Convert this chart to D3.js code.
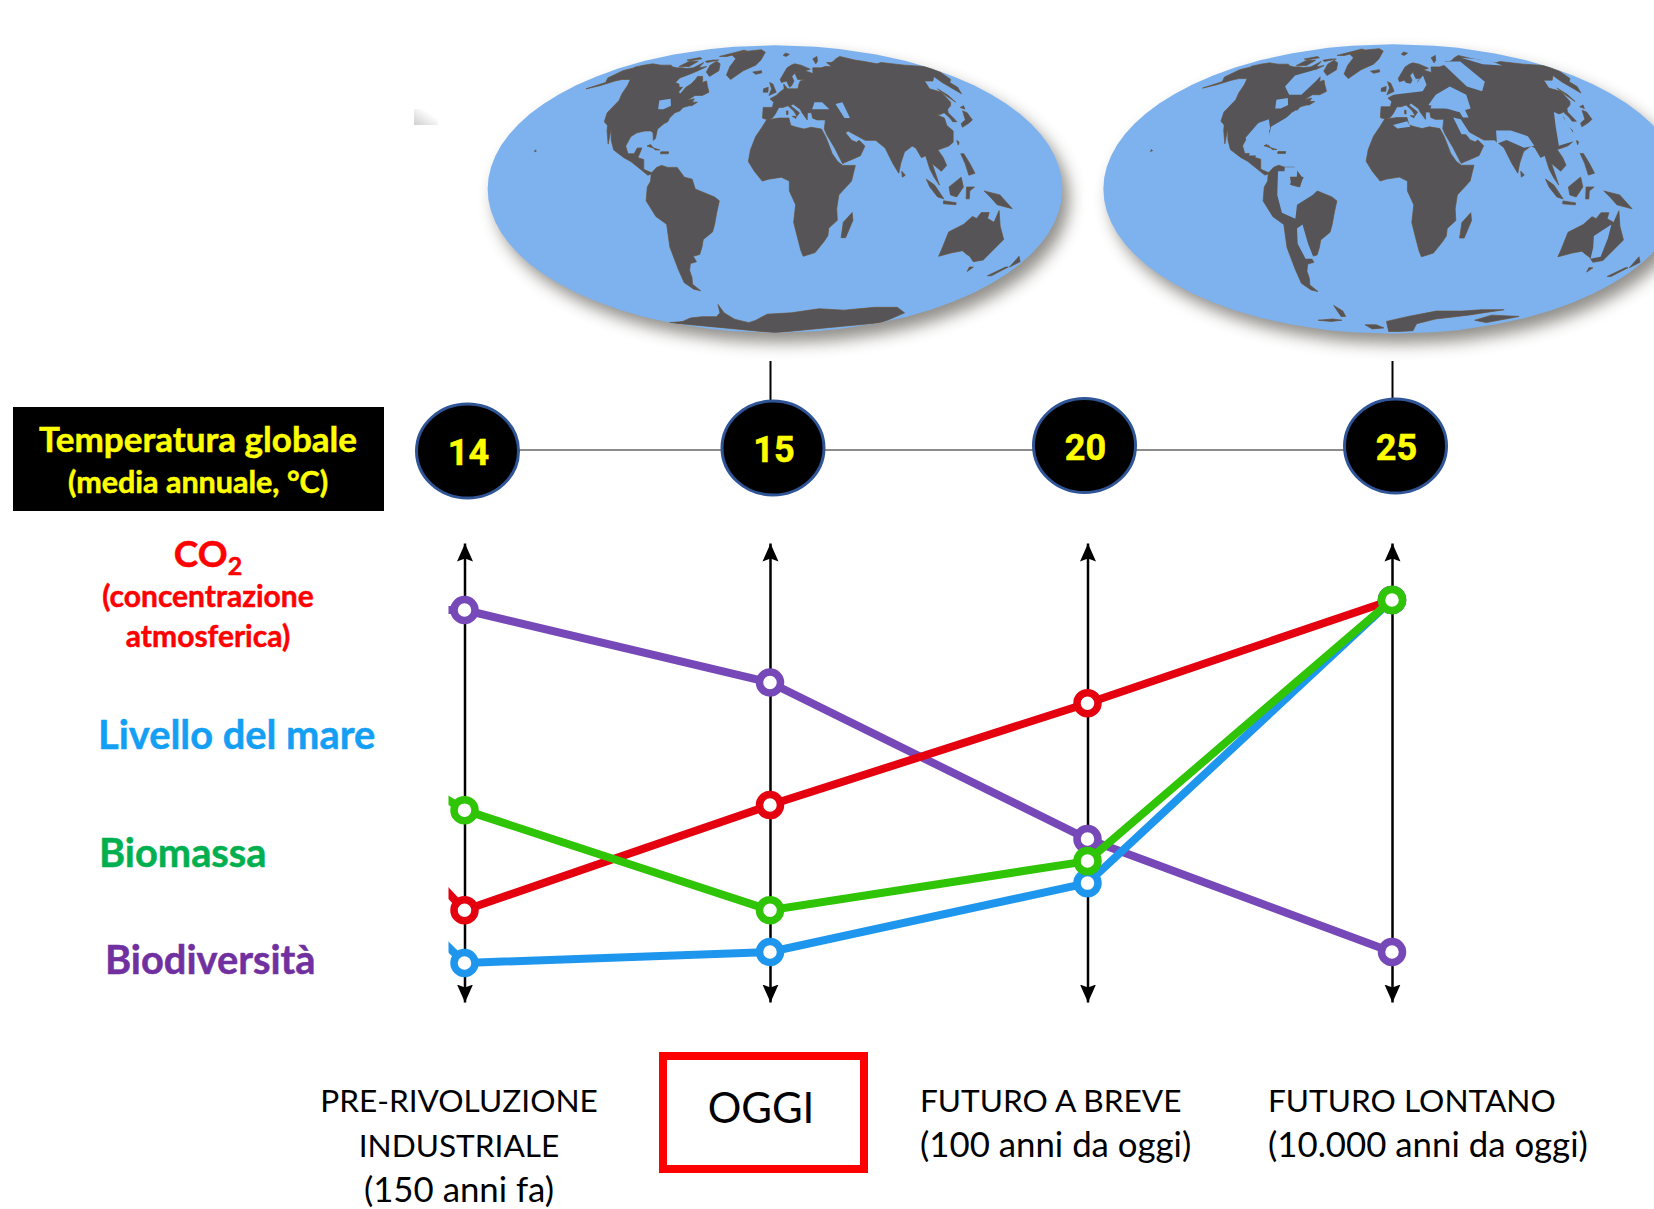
<!DOCTYPE html>
<html>
<head>
<meta charset="utf-8">
<title>Temperatura globale</title>
<script src="https://cdnjs.cloudflare.com/ajax/libs/d3/7.8.5/d3.min.js"></script>
<style>
    html, body { margin: 0; padding: 0; background: #fff; }
    svg { display: block; }
    text { font-family: Lato, "Open Sans", sans-serif; }
    .heavy { font-weight: 700; stroke-width: 0.5px; paint-order: stroke; }
</style>
</head>
<body>
<div id="chart"></div>
<script>
// periods on the x direction
var periods = ["pre", "oggi", "breve", "lontano"];
var temperatures = [14, 15, 20, 25];

// relative level of each indicator, 0 = bottom of the arrow, 100 = top
var biodiversita = [85.4, 69.6, 35.5, 10.9];
var co2 = [20, 42.9, 65.1, 87.6];
var mare = [8.5, 10.9, 25.9, 87.6];
var biomassa = [41.8, 20, 30.7, 87.6];

// the cut-off bit of line coming in from the left of the first arrow
var leadBiodiversita = 85.4;
var leadCo2 = 25.6;
var leadMare = 13.7;
var leadBiomassa = 45;

var rowLabels = ["Livello del mare", "Biomassa", "Biodiversità"];
var co2Lines = ["(concentrazione", "atmosferica)"];
var tempLines = ["Temperatura globale", "(media annuale, °C)"];
var periodPre = ["PRE-RIVOLUZIONE", "INDUSTRIALE", "(150 anni fa)"];
var periodBreve = ["FUTURO A BREVE", "(100 anni da oggi)"];
var periodLontano = ["FUTURO LONTANO", "(10.000 anni da oggi)"];

// coastlines, lon/lat
var northAmerica = [[-168,66],[-164,68],[-166,68.5],[-162,70],[-156,71],[-141,70],[-128,70],[-124,69],[-115,68],[-108,68],[-102,67.5],[-95,68],[-94,72],[-90,69],[-88,68],[-82,69],[-85,66],[-88,64],[-94,61],[-93,58],[-88,57],[-85,55],[-82,55],[-82,52],[-79,51],[-79,55],[-77,57],[-77,60],[-78,62],[-73,62],[-70,60],[-68,58],[-65,59],[-61,56],[-56,52],[-60,50],[-66,50],[-70,47],[-65,48],[-65,46],[-61,46],[-64,44],[-66,44],[-70,43],[-71,41],[-74,40],[-76,37],[-76,35],[-78,34],[-81,31],[-80,26],[-81,25],[-83,29],[-85,30],[-89,30],[-94,29],[-97,27],[-98,22],[-95,18],[-91,18],[-90,21],[-87,21],[-88,16],[-84,15],[-83,10],[-80,9],[-77,8],[-80,7],[-85,10],[-92,14],[-97,16],[-105,20],[-109,25],[-113,31],[-110,23],[-115,30],[-117,33],[-121,35],[-124,40],[-124,47],[-128,51],[-133,56],[-140,60],[-148,60],[-152,59],[-158,56],[-165,54],[-158,58],[-165,61]];
var greenland = [[-73,78],[-60,82],[-35,83.5],[-20,81],[-20,74],[-24,70],[-35,66],[-43,60],[-50,63],[-54,69],[-58,75]];
var arctic = [
    [[-80,73],[-70,71],[-62,66],[-66,62],[-74,65],[-80,70]],
    [[-117,73],[-105,73],[-103,69],[-115,69]],
    [[-90,77],[-75,83],[-62,82],[-78,77]],
    [[-125,74],[-116,76],[-108,75],[-118,73.5]],
    [[52,71],[56,75],[68,77],[58,73]],
    [[14,78],[20,80],[26,79],[18,77]],
    [[-95,73],[-88,74],[-80,74],[-90,72]]
];
var southAmerica = [[-78,8],[-75,11],[-72,12],[-68,11],[-62,11],[-57,6],[-52,5],[-50,0],[-44,-2],[-38,-4],[-35,-6],[-37,-12],[-39,-18],[-41,-22],[-48,-26],[-50,-30],[-53,-34],[-58,-35],[-57,-38],[-62,-39],[-65,-43],[-66,-47],[-69,-51],[-66,-55],[-71,-54],[-75,-50],[-73,-42],[-72,-30],[-70,-18],[-76,-14],[-81,-6],[-80,1],[-78,4]];
var africa = [[-6,36],[3,37],[10,37],[11,33],[15,32],[20,31],[25,32],[32,31],[34,27],[35,24],[37,18],[40,14],[43,12],[51,12],[48,4],[40,-3],[39,-10],[40,-16],[35,-20],[35,-24],[33,-27],[28,-33],[20,-35],[18,-32],[15,-25],[12,-17],[13,-8],[9,-1],[9,4],[4,6],[-4,5],[-8,4],[-13,9],[-17,14],[-16,20],[-13,27],[-9,32]];
var madagascar = [[49,-12],[50,-16],[47,-25],[44,-25],[44,-17]];
var eurasia = [[-9,43],[-2,43],[-1,46],[-4,48],[1,50],[4,52],[6,53],[8,54],[8,57],[11,54],[14,54],[20,54],[22,57],[24,59],[30,60],[22,60],[21,64],[24,66],[17,62],[18,59],[15,56],[13,55],[11,59],[6,58],[5,60],[7,62],[14,68],[20,70],[25,71],[32,70],[40,67],[33,66],[40,64],[44,68],[54,68],[60,69],[68,69],[68,72],[74,72],[80,73],[90,75],[105,77],[113,74],[120,73],[130,71],[140,72],[160,70],[180,69],[178,65],[170,60],[163,58],[162,55],[156,51],[156,58],[160,62],[150,59],[142,59],[135,54],[141,52],[138,46],[135,44],[130,42],[128,40],[129,35],[126,35],[126,37],[125,40],[121,39],[118,39],[122,37],[120,33],[122,30],[118,24],[114,22],[110,21],[106,20],[108,16],[109,12],[105,9],[100,13],[103,2],[100,6],[98,10],[97,17],[94,16],[92,21],[90,22],[86,20],[84,19],[80,13],[78,8],[75,13],[73,18],[72,21],[67,25],[60,25],[56,27],[50,30],[48,29],[51,25],[54,24],[56,25],[59,22],[55,17],[52,16],[43,13],[39,21],[35,28],[34,31],[36,36],[30,36],[27,37],[27,40],[24,40],[23,36],[20,40],[19,42],[14,45],[12,44],[18,40],[16,38],[14,41],[10,44],[6,43],[3,43],[0,39],[-2,37],[-5,36],[-9,37]];
var islands = [
    [[-24,65],[-15,66],[-14,64.5],[-20,63.5]],
    [[-5,58],[-2,57],[1,52],[-5,50],[-3,54]],
    [[-10,54],[-6,55],[-6,52],[-10,52]],
    [[-84,22],[-75,20],[-78,20],[-82,22.8]],
    [[-74,19],[-69,19],[-69,18],[-74,18]],
    [[130,32],[136,34],[141,36],[142,40],[140,41],[136,36],[131,34]],
    [[141,43],[145,44],[143,42]],
    [[142,54],[143,50],[142,46],[141,50]],
    [[120,18],[122,18],[124,13],[126,8],[122,7],[121,13]],
    [[95,5],[100,2],[106,-5],[102,-4],[97,1]],
    [[106,-6],[114,-7],[114,-8],[106,-7.5]],
    [[109,1],[117,6],[118,1],[114,-4],[110,-3]],
    [[120,1],[125,1],[122,-1],[122,-5],[120,-5]],
    [[131,-1],[141,-3],[150,-10],[140,-8],[135,-4]],
    [[167,-46],[172,-41],[174,-41],[170,-46]],
    [[173,-35],[178,-38],[175,-41]],
    [[80,9],[82,7],[80,6]],
    [[145,-41],[148,-41],[147,-43.5]],
    [[121,25],[122,24],[120.5,22.5]],
    [[8.5,41],[9.7,41],[9.5,39],[8.5,39]],
    [[12.5,38],[15.5,38],[15,36.8]],
    [[-156,20],[-155,19.5],[-156,19]]
];
var australia = [[114,-22],[122,-18],[126,-14],[129,-15],[131,-12],[136,-12],[136,-15],[141,-17],[142,-11],[146,-19],[153,-26],[150,-37],[144,-38],[138,-35],[135,-34],[130,-32],[124,-33],[116,-35],[115,-31]];
var antarctica = [[-180,-78],[-150,-77],[-120,-74],[-100,-73],[-80,-73],[-68,-70],[-60,-64],[-63,-70],[-60,-75],[-45,-78],[-30,-76],[-10,-71],[20,-70],[50,-67],[80,-68],[110,-66],[135,-66],[160,-70],[170,-75],[180,-78],[180,-90],[-180,-90]];
var inlandSeas = [
    [[28,42],[31,46],[37,46],[41,42],[35,42]],
    [[47,45],[53,46],[54,37],[50,37]],
    [[-92,47],[-84,48],[-80,44],[-84,42],[-88,42]]
];

// land that is under water on the future map
var flooded = [
    [[-84,32],[-76,37],[-72,41],[-68,40],[-72,28],[-82,22]],
    [[-98,26],[-94,34],[-88,36],[-84,31],[-84,25],[-95,24]],
    [[-98,62],[-95,55],[-85,50],[-75,50],[-72,58],[-72,63],[-85,66]],
    [[-92,17],[-92,23],[-85,23],[-86,17]],
    [[-72,9],[-72,-3],[-70,-12],[-62,-15],[-60,-8],[-50,-3],[-46,0],[-50,6],[-55,7],[-58,2],[-64,2],[-62,9]],
    [[-62,-20],[-58,-18],[-57,-28],[-56,-36],[-62,-36],[-64,-28]],
    [[0,50],[25,52],[30,56],[30,62],[20,56],[8,58],[2,53]],
    [[27,44],[35,50],[50,55],[60,50],[58,42],[48,40],[40,42]],
    [[62,72],[65,55],[75,52],[85,58],[88,72]],
    [[43,37],[48,36],[52,28],[46,28]],
    [[68,23],[70,30],[80,30],[90,27],[92,22],[85,21],[75,25]],
    [[108,22],[112,32],[118,40],[122,38],[122,25]],
    [[100,75],[130,73],[130,69],[110,70]],
    [[0,33],[10,35],[12,32],[3,31]],
    [[132,-24],[140,-18],[142,-25],[146,-35],[140,-36],[136,-30]],
    [[-68,6],[-60,6],[-60,11],[-68,11]]
];
var guiana = [[-64,6],[-60,6],[-57,4],[-58,1],[-63,2]];
// what is left of Antarctica once the ice is gone
var antarcticFragments = [
    [[-62,-64],[-58,-68],[-62,-72],[-68,-72]],
    [[-110,-75],[-85,-74],[-75,-75],[-95,-76]],
    [[20,-72],[50,-68],[80,-68],[100,-67],[125,-67],[95,-71],[60,-74],[40,-78],[60,-85],[20,-86],[-15,-86],[-10,-76]],
    [[-50,-79],[-30,-79],[-20,-82],[-50,-83]],
    [[125,-71],[165,-72],[150,-77],[120,-75]]
];

var width = 1654;
var height = 1209;

var svg = d3.select("#chart").append("svg")
    .attr("width", width)
    .attr("height", height);

var defs = svg.append("defs");

defs.append("filter").attr("id", "soft")
    .attr("x", "-10%").attr("y", "-10%")
    .attr("width", "120%").attr("height", "125%")
    .append("feGaussianBlur").attr("stdDeviation", 8);

defs.append("marker").attr("id", "arrow")
    .attr("viewBox", "0 -9 18 18")
    .attr("refX", 18).attr("refY", 0)
    .attr("markerUnits", "userSpaceOnUse")
    .attr("markerWidth", 18).attr("markerHeight", 18)
    .attr("orient", "auto-start-reverse")
    .append("path")
    .attr("d", "M18,0L0,-8L3,0L0,8Z")
    .attr("fill", "#000");

var scrap = defs.append("linearGradient").attr("id", "scrap")
    .attr("x1", 0).attr("y1", 1).attr("x2", 1).attr("y2", 0);
scrap.append("stop").attr("offset", "0%").attr("stop-color", "#cfcfcf");
scrap.append("stop").attr("offset", "70%").attr("stop-color", "#fff");

// Mollweide, not in d3-geo core
function mollweideRaw(lambda, phi) {
    var t = phi;
    for (var i = 0; i < 30; i++) {
        var d = (2 * t + Math.sin(2 * t) - Math.PI * Math.sin(phi)) / (2 + 2 * Math.cos(2 * t) + 1e-9);
        t -= d;
        if (Math.abs(d) < 1e-7) break;
    }
    return [2 * Math.SQRT2 / Math.PI * lambda * Math.cos(t), Math.SQRT2 * Math.sin(t)];
}

function drawGlobe(id, cx, cy, k, landShapes, waterShapes, topShapes) {
    var projection = d3.geoProjection(mollweideRaw)
        .scale(k)
        .translate([cx, cy])
        .precision(0.5);
    var sphere = d3.geoPath(projection)({ type: "Sphere" });
    var ring = d3.line()
        .x(d => projection(d)[0])
        .y(d => projection(d)[1])
        .curve(d3.curveLinearClosed);

    defs.append("clipPath").attr("id", id).append("path").attr("d", sphere);

    svg.append("path")
        .attr("d", sphere)
        .attr("transform", "translate(7,10)")
        .attr("fill", "#57524c")
        .attr("opacity", 0.65)
        .attr("filter", "url(#soft)");

    svg.append("path").attr("d", sphere).attr("fill", "#7db2ee");

    var g = svg.append("g").attr("clip-path", "url(#" + id + ")");

    g.selectAll(".land").data(landShapes).enter().append("path")
        .attr("class", "land")
        .attr("d", ring)
        .attr("fill", "#565456")
        .attr("stroke", "#6a5138")
        .attr("stroke-width", 0.7);

    g.selectAll(".water").data(waterShapes).enter().append("path")
        .attr("class", "water")
        .attr("d", ring)
        .attr("fill", "#7db2ee");

    g.selectAll(".top").data(topShapes).enter().append("path")
        .attr("class", "top")
        .attr("d", ring)
        .attr("fill", "#565456")
        .attr("stroke", "#6a5138")
        .attr("stroke-width", 0.7);
}

var baseLand = [northAmerica, greenland, southAmerica, africa, madagascar, eurasia, australia].concat(arctic, islands);

drawGlobe("globe1", 775, 189, 101.6, baseLand.concat([antarctica]), inlandSeas, []);
drawGlobe("globe2", 1393, 189, 102.4, baseLand, inlandSeas.concat(flooded), [guiana].concat(antarcticFragments));

// stray bit of the pasted image, left of the first globe
svg.append("rect")
    .attr("x", 414).attr("y", 109).attr("width", 24).attr("height", 16)
    .attr("fill", "url(#scrap)");

// temperature row
var tempX = d3.scaleOrdinal().domain(temperatures).range([467.5, 773, 1084.5, 1395.5]);
var tempY = d3.scaleOrdinal().domain(temperatures).range([451, 448, 445.5, 446]);

svg.append("line")
    .attr("x1", tempX(14)).attr("x2", tempX(25))
    .attr("y1", 450).attr("y2", 450)
    .attr("stroke", "#8c8c8c")
    .attr("stroke-width", 2);

[770.5, 1392.5].forEach(function (x) {
    svg.append("line")
        .attr("x1", x).attr("x2", x)
        .attr("y1", 361).attr("y2", 402)
        .attr("stroke", "#000")
        .attr("stroke-width", 2);
});

svg.selectAll(".temp").data(temperatures).enter().append("ellipse")
    .attr("class", "temp")
    .attr("cx", d => tempX(d))
    .attr("cy", d => tempY(d))
    .attr("rx", 51)
    .attr("ry", 47)
    .attr("fill", "#000")
    .attr("stroke", "#2f5597")
    .attr("stroke-width", 3);

svg.selectAll(".tempval").data(temperatures).enter().append("text")
    .attr("class", "tempval heavy")
    .attr("x", d => tempX(d) + 1)
    .attr("y", d => tempY(d) + 14)
    .attr("text-anchor", "middle")
    .attr("fill", "#ffff00")
    .attr("stroke", "#ffff00")
    .style("font-family", "Roboto, sans-serif")
    .style("font-size", "36px")
    .text(d => d);

// black title box
svg.append("rect")
    .attr("x", 13).attr("y", 407)
    .attr("width", 371).attr("height", 104)
    .attr("fill", "#000");

svg.selectAll(".templine").data(tempLines).enter().append("text")
    .attr("class", "templine heavy")
    .attr("x", 198)
    .attr("y", (d, i) => i == 0 ? 452 : 493)
    .attr("text-anchor", "middle")
    .attr("fill", "#ffff00")
    .attr("stroke", "#ffff00")
    .style("font-size", (d, i) => i == 0 ? "35px" : "30.5px")
    .text(d => d);

// series labels on the left
var co2Label = svg.append("text")
    .attr("class", "heavy")
    .attr("x", 208).attr("y", 567)
    .attr("text-anchor", "middle")
    .attr("fill", "#ff0000")
    .attr("stroke", "#ff0000")
    .style("font-size", "37px");
co2Label.append("tspan").text("CO");
co2Label.append("tspan").attr("dy", 8).style("font-size", "25px").text("2");

svg.selectAll(".co2line").data(co2Lines).enter().append("text")
    .attr("class", "co2line heavy")
    .attr("x", 208)
    .attr("y", (d, i) => i == 0 ? 607 : 647)
    .attr("text-anchor", "middle")
    .attr("fill", "#ff0000")
    .attr("stroke", "#ff0000")
    .style("font-size", "30px")
    .text(d => d);

var rowColors = d3.scaleOrdinal().domain(rowLabels).range(["#149ff5", "#00b050", "#7030a0"]);
var rowX = d3.scaleOrdinal().domain(rowLabels).range([98, 99, 105]);
var rowY = d3.scaleOrdinal().domain(rowLabels).range([749, 867, 974]);

svg.selectAll(".rowlabel").data(rowLabels).enter().append("text")
    .attr("class", "rowlabel heavy")
    .attr("x", d => rowX(d))
    .attr("y", d => rowY(d))
    .attr("fill", d => rowColors(d))
    .attr("stroke", d => rowColors(d))
    .style("font-size", "39.8px")
    .text(d => d);

// the chart proper
var x = d3.scaleOrdinal().domain(periods).range([464.5, 770, 1087.5, 1392]);
var y = d3.scaleLinear().domain([0, 100]).range([1002, 543]);

periods.forEach(function (p) {
    var axis = svg.append("g")
        .attr("transform", "translate(" + x(p) + ",0)")
        .call(d3.axisLeft(y).tickValues([]).tickSizeOuter(0));
    axis.select(".domain")
        .attr("stroke", "#000")
        .attr("stroke-width", 2.5)
        .attr("marker-start", "url(#arrow)")
        .attr("marker-end", "url(#arrow)");
});

defs.append("clipPath").attr("id", "leadclip")
    .append("rect")
    .attr("x", x(periods[0]) - 16).attr("y", 0)
    .attr("width", 40).attr("height", height);

var series = [
    { name: "biodiversita", values: biodiversita, lead: leadBiodiversita, color: "#7749b8" },
    { name: "co2", values: co2, lead: leadCo2, color: "#e4000f" },
    { name: "mare", values: mare, lead: leadMare, color: "#1f96ee" },
    { name: "biomassa", values: biomassa, lead: leadBiomassa, color: "#2fc406" }
];

var line = d3.line()
    .x((d, i) => x(periods[i]))
    .y(d => y(d));

series.forEach(function (s) {
    var g = svg.append("g").attr("class", s.name);

    g.append("line")
        .attr("x1", x(periods[0]) - 24).attr("x2", x(periods[0]))
        .attr("y1", y(s.lead)).attr("y2", y(s.values[0]))
        .attr("stroke", s.color)
        .attr("stroke-width", 8)
        .attr("clip-path", "url(#leadclip)");

    g.append("path")
        .attr("d", line(s.values))
        .attr("fill", "none")
        .attr("stroke", s.color)
        .attr("stroke-width", 8);

    g.selectAll("circle").data(s.values).enter().append("circle")
        .attr("cx", (d, i) => x(periods[i]))
        .attr("cy", d => y(d))
        .attr("r", 10.5)
        .attr("fill", "#fff")
        .attr("stroke", s.color)
        .attr("stroke-width", 7.5);
});

// period captions, capitals are set a little smaller than the bracketed lines
function caption(lines, xpos, anchor) {
    svg.append("g").selectAll("text").data(lines).enter().append("text")
        .attr("x", xpos)
        .attr("y", (d, i) => 1112 + i * 45)
        .attr("text-anchor", anchor)
        .attr("fill", "#000")
        .style("font-size", d => d.charAt(0) == "(" ? "34.8px" : "31.6px")
        .text(d => d);
}

caption(periodPre, 459, "middle");
caption(periodBreve, 920, "start");
caption(periodLontano, 1268, "start");

svg.append("rect")
    .attr("x", 663).attr("y", 1056)
    .attr("width", 201).attr("height", 113)
    .attr("fill", "#fff")
    .attr("stroke", "#ff0000")
    .attr("stroke-width", 8);

svg.append("text")
    .attr("x", 761).attr("y", 1123)
    .attr("text-anchor", "middle")
    .attr("fill", "#000")
    .style("font-size", "42px")
    .text("OGGI");
</script>
</body>
</html>
